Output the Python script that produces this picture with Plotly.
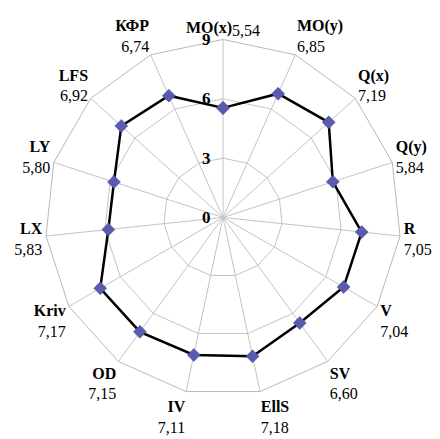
import plotly.graph_objects as go

categories = ["MO(x)", "MO(y)", "Q(x)", "Q(y)", "R", "V", "SV", "EllS",
              "IV", "OD", "Kriv", "LX", "LY", "LFS", "КФР"]
values = [5.54, 6.85, 7.19, 5.84, 7.05, 7.04, 6.60, 7.18,
          7.11, 7.15, 7.17, 5.83, 5.80, 6.92, 6.74]
radial_ticks = [0, 3, 6, 9]

def fmt(v):
    return f"{v:.2f}".replace(".", ",")

ticktext = []
for i, (c, v) in enumerate(zip(categories, values)):
    if i == 0:
        ticktext.append(f"<b>{c}</b><sub><span style='font-size:16px'>{fmt(v)}</span></sub>")
    else:
        ticktext.append(f"<b>{c}</b><br>{fmt(v)}")

theta = categories + [categories[0]]
r = values + [values[0]]

fig = go.Figure()
fig.add_trace(go.Scatterpolar(
    r=r, theta=theta, mode="lines+markers",
    line=dict(color="black", width=2.5),
    marker=dict(symbol="diamond", size=10, color="#5a5aae",
                line=dict(color="#4a4a9a", width=0.5)),
    showlegend=False, cliponaxis=False,
))

fig.update_layout(
    width=440, height=439,
    margin=dict(l=0, r=0, t=0, b=0),
    paper_bgcolor="white",
    font=dict(family="Liberation Serif", size=16, color="black"),
    polar=dict(
        domain=dict(x=[0.0842, 0.8932], y=[0.1174, 0.9284]),
        bgcolor="white",
        gridshape="linear",
        angularaxis=dict(
            direction="clockwise", rotation=90,
            tickmode="array", tickvals=categories, ticktext=ticktext,
            showline=True, linecolor="#b8b8b8", linewidth=1,
            gridcolor="#c4c4c4", gridwidth=1,
            ticks="", tickfont=dict(size=16),
        ),
        radialaxis=dict(
            range=[0, 9], tickvals=radial_ticks,
            ticktext=[f"<b>{t}</b>" for t in radial_ticks],
            angle=90, tickangle=90, side="counterclockwise",
            ticks="outside", ticklen=6, tickcolor="rgba(0,0,0,0)",
            showline=False, gridcolor="#c4c4c4", gridwidth=1,
            tickfont=dict(size=17),
        ),
    ),
)

fig.write_html("out.html")
